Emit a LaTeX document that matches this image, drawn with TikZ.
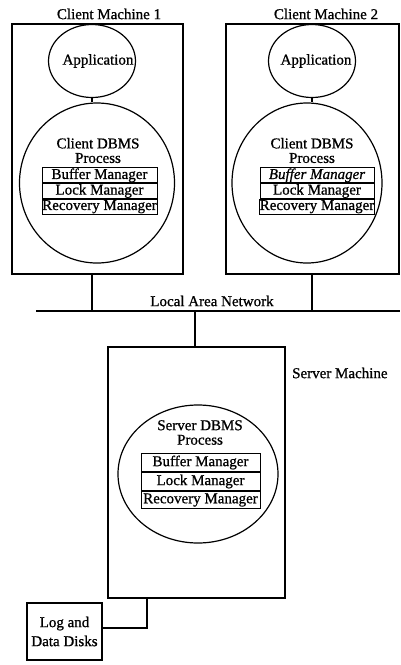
\documentclass[tikz,border=0pt]{standalone}
\usepackage{fontspec}
\setmainfont{Liberation Serif}
\newfontfamily\inkfont{Liberation Serif}[FakeBold=0.9]
\usetikzlibrary{shapes.geometric}
\tikzset{
  lbl/.style={font=\fontsize{15}{14.5}\inkfont, inner sep=0pt, align=center},
  machine/.style={draw, line width=1.2pt, inner sep=0pt},
  proc/.style={draw, ellipse, line width=1.2pt, inner sep=0pt},
  mgr/.style={draw, line width=1pt, inner sep=0pt, minimum height=14.7pt,
              font=\fontsize{15}{15}\inkfont},
  wire/.style={line width=1.2pt}
}
\begin{document}
\begin{tikzpicture}[x=1pt,y=-1pt]
\useasboundingbox (0,0) rectangle (400,665);

% ---- Client machine 1 ----
\node[lbl] (t1) at (109,14) {Client Machine 1};
\node[machine, minimum width=171pt, minimum height=250pt] (cm1) at (97.5,149) {};
\node[proc, minimum width=87pt, minimum height=73pt] (app1) at (92,61) {};
\node[lbl] (app1t) at (98,61) {Application};
\node[proc, minimum width=155pt, minimum height=160pt] (db1) at (97,183) {};
\node[lbl] (db1t) at (98,150.5) {Client DBMS\\Process};
\node[mgr, minimum width=115pt] (buf1) at (99.5,175.3) {Buffer Manager};
\node[mgr, minimum width=115pt, anchor=north] (lock1) at (buf1.south) {Lock Manager};
\node[mgr, minimum width=115pt, anchor=north] (rec1) at (lock1.south) {Recovery Manager};
\draw[wire] (app1.south) -- (app1.south |- db1.north);

% ---- Client machine 2 ----
\node[lbl] (t2) at (326,14) {Client Machine 2};
\node[machine, minimum width=173pt, minimum height=250pt] (cm2) at (312.5,149) {};
\node[proc, minimum width=87pt, minimum height=73pt] (app2) at (312,61) {};
\node[lbl] (app2t) at (316,61) {Application};
\node[proc, minimum width=150pt, minimum height=160pt] (db2) at (307,183) {};
\node[lbl] (db2t) at (312,150.5) {Client DBMS\\Process};
\node[mgr, minimum width=114pt, font=\fontsize{15}{15}\inkfont\itshape] (buf2) at (317,175.3) {Buffer Manager};
\node[mgr, minimum width=114pt, anchor=north] (lock2) at (buf2.south) {Lock Manager};
\node[mgr, minimum width=114pt, anchor=north] (rec2) at (lock2.south) {Recovery Manager};
\draw[wire] (app2.south) -- (app2.south |- db2.north);

% ---- Local area network ----
\coordinate (lanL) at (36,311);
\coordinate (lanR) at (400,311);
\draw[wire] (lanL) -- (lanR);
\node[lbl] (lan) at (212,301) {Local Area Network};
\draw[wire] (app1 |- cm1.south) -- (app1 |- lanL);
\draw[wire] (app2 |- cm2.south) -- (app2 |- lanL);

% ---- Server machine ----
\node[machine, minimum width=177pt, minimum height=251pt] (sm) at (196.5,472.5) {};
\node[lbl, anchor=west] (smt) at (292,373) {Server Machine};
\coordinate (tap) at (195,311);
\draw[wire] (tap) -- (tap |- sm.north);
\node[proc, minimum width=160pt, minimum height=138pt] (sdb) at (198,474) {};
\node[lbl] (sdbt) at (200,432.5) {Server DBMS\\Process};
\node[mgr, minimum width=119pt, minimum height=18pt] (sbuf) at (200.5,462.5) {Buffer Manager};
\node[mgr, minimum width=119pt, minimum height=18pt, anchor=north] (slock) at (sbuf.south) {Lock Manager};
\node[mgr, minimum width=119pt, minimum height=17pt, anchor=north] (srec) at (slock.south) {Recovery Manager};

% ---- Disks ----
\node[machine, minimum width=75pt, minimum height=57pt] (disk) at (64.5,631.5) {};
\node[lbl, font=\fontsize{15}{19}\inkfont] (diskt) at (64.5,631.5) {Log and\\Data Disks};
\coordinate (drop) at (147,628);
\draw[wire] (drop |- sm.south) -- (drop) -- (disk.east |- drop);
\end{tikzpicture}
\end{document}
